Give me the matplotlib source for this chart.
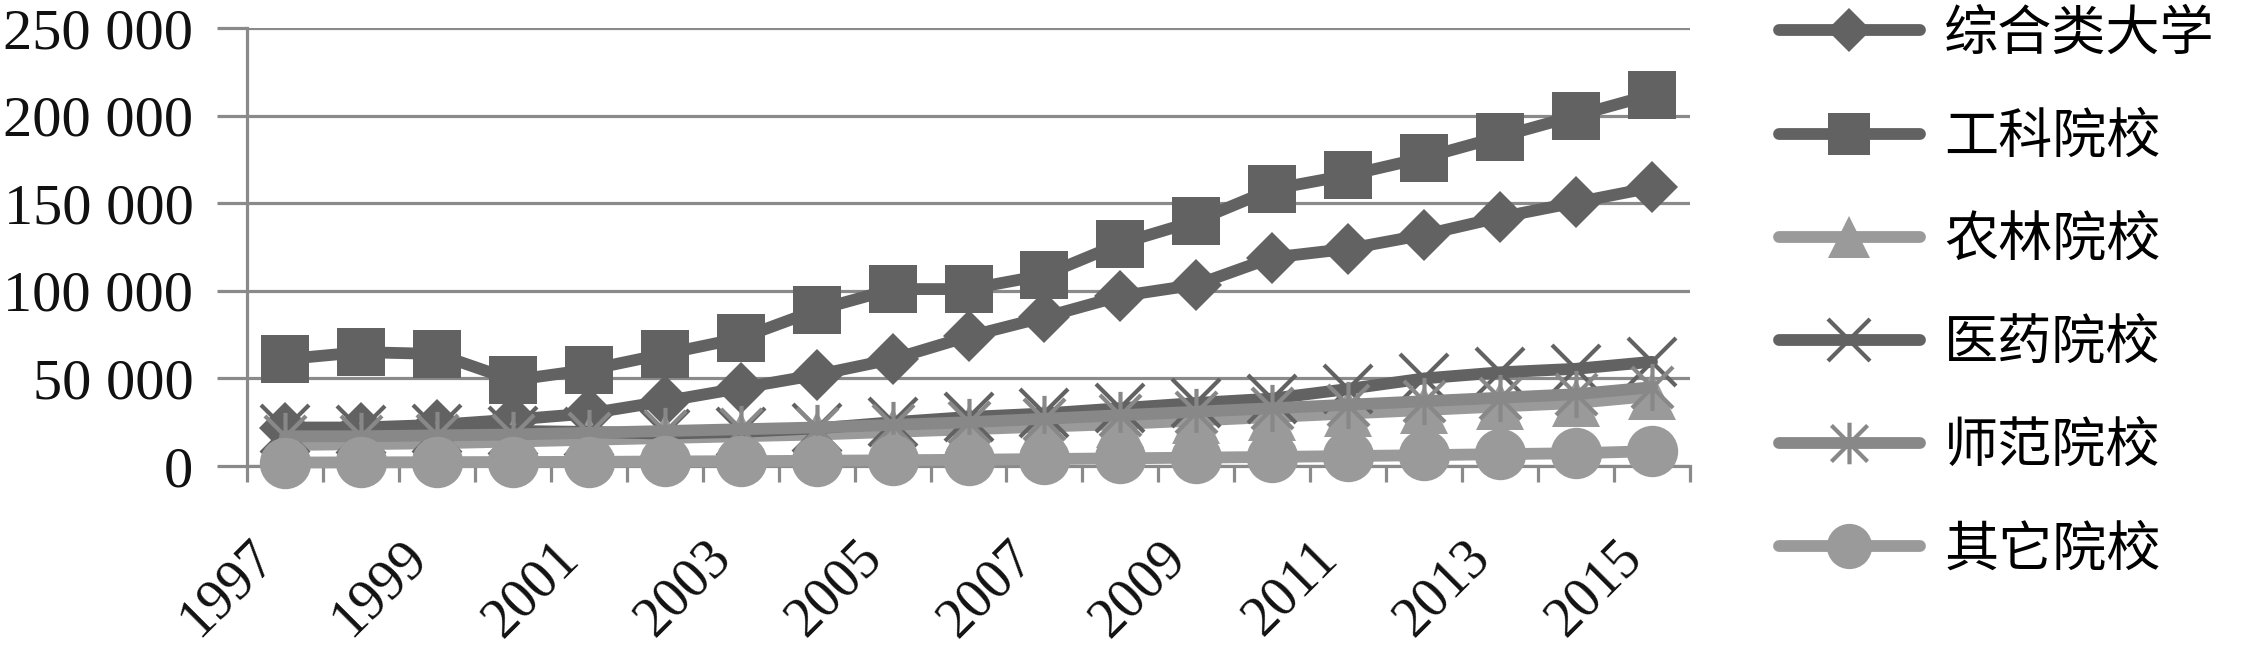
import matplotlib
matplotlib.use("Agg")
import matplotlib.pyplot as plt
from matplotlib.path import Path
from matplotlib.font_manager import FontProperties
import numpy as np

# ---------------- data ----------------
years = list(range(1997, 2016))
series_names = ["综合类大学", "工科院校", "农林院校", "医药院校", "师范院校", "其它院校"]
comprehensive = [22000, 22000, 23500, 26500, 30000, 37000, 44500, 52000, 61000, 74000,
                 85000, 97000, 103500, 119000, 124000, 132000, 142000, 150500, 159000]
engineering = [61000, 65000, 64000, 49000, 55000, 64000, 73000, 89000, 101000, 101000,
               109000, 127000, 140000, 158000, 166000, 176000, 188000, 200000, 212000]
agri_forestry = [12000, 12500, 13000, 14000, 15000, 16000, 17000, 18000, 19500, 21000,
                 22500, 24000, 26000, 28000, 30000, 32000, 34000, 36000, 40000]
medical = [21000, 20500, 21000, 20000, 19500, 18500, 19500, 21500, 25000, 28000,
           30000, 33000, 36000, 38500, 44000, 50000, 53500, 55500, 59500]
normal = [17000, 17000, 17500, 18000, 19000, 20000, 21000, 22000, 23500, 25000,
          27000, 29000, 31000, 33000, 35000, 37000, 39000, 41000, 45000]
others = [2000, 2100, 2200, 2300, 2400, 2600, 2800, 3000, 3300, 3600,
          4000, 4400, 4800, 5200, 5700, 6200, 6800, 7300, 8500]

ytick_values = [0, 50000, 100000, 150000, 200000, 250000]
ytick_labels = ["0", "50 000", "100 000", "150 000", "200 000", "250 000"]
xtick_labels = ["1997", "1999", "2001", "2003", "2005", "2007", "2009", "2011", "2013", "2015"]

# ---------------- style ----------------
GRID = "#8a8a8a"
DARK = "#626262"
MID = "#888888"
LIGHT = "#9a9a9a"

star_path = Path(
    [(-1, -1), (1, 1), (-1, 1), (1, -1), (0, -1.15), (0, 1.15)],
    [Path.MOVETO, Path.LINETO, Path.MOVETO, Path.LINETO, Path.MOVETO, Path.LINETO],
)

styles = [
    dict(color=DARK, marker="D", ms=26, mew=0),
    dict(color=DARK, marker="s", ms=35, mew=0),
    dict(color=LIGHT, marker="^", ms=35, mew=0),
    dict(color=DARK, marker="x", ms=34, mew=3),
    dict(color=MID, marker=star_path, ms=34, mew=3),
    dict(color=LIGHT, marker="o", ms=37, mew=0),
]
all_series = [comprehensive, engineering, agri_forestry, medical, normal, others]

fig = plt.figure(figsize=(22.44, 6.5), dpi=100)
ax = fig.add_axes([0.1101, 0.283, 0.6430, 0.6739])

x = np.arange(len(years))
handles = []
for i, (vals, st) in enumerate(zip(all_series, styles)):
    (ln,) = ax.plot(
        x, vals, color=st["color"], lw=8.5, marker=st["marker"], ms=st["ms"],
        mfc=st["color"], mec=st["color"], mew=st["mew"],
        solid_capstyle="round", solid_joinstyle="round", zorder=3 + i,
        label=series_names[i], clip_on=False,
    )
    handles.append(ln)

ax.set_xlim(-0.5, len(years) - 0.5)
ax.set_ylim(0, 250000)

ax.set_yticks(ytick_values)
ax.set_yticklabels(ytick_labels, fontfamily="Liberation Serif", fontsize=42, color="#111111")
ax.tick_params(axis="y", length=21.6, width=2.3, color=GRID, pad=17)
ax.yaxis.grid(True, color=GRID, lw=2.3)
ax.set_axisbelow(True)

label_pos = [years.index(int(t)) for t in xtick_labels]
ax.set_xticks(label_pos)
ax.set_xticklabels(xtick_labels, fontfamily="Liberation Serif", fontsize=40,
                   rotation=45, ha="right", color="#111111")
ax.set_xticks(np.arange(-0.5, len(years), 1.0), minor=True)
ax.tick_params(axis="x", which="major", length=0, pad=47)
ax.tick_params(axis="x", which="minor", length=11.5, width=2.3, color=GRID)

for s in ["top", "right"]:
    ax.spines[s].set_visible(False)
for s in ["left", "bottom"]:
    ax.spines[s].set_color(GRID)
    ax.spines[s].set_linewidth(2.3)

fig.legend(
    handles, series_names, loc="center left", bbox_to_anchor=(0.7928, 0.551),
    frameon=False, prop=FontProperties(family=["Noto Sans CJK SC", "DejaVu Sans"], size=39),
    handlelength=2.6, handletextpad=0.45, labelspacing=0.89, borderpad=0,
    borderaxespad=0, markerscale=0.88,
)

fig.savefig("out.png", dpi=100, facecolor="white")
